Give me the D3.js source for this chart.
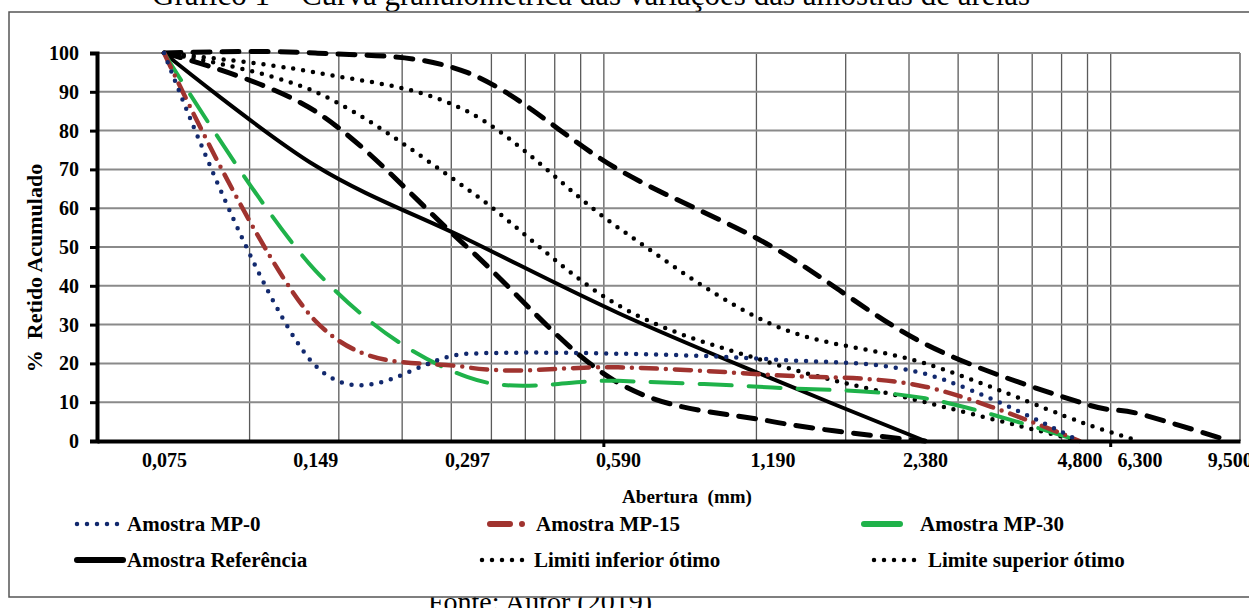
<!DOCTYPE html>
<html>
<head>
<meta charset="utf-8">
<script src="https://cdn.jsdelivr.net/npm/d3@7"></script>
<style>
body { margin: 0; background: #fff; }
svg { display: block; }
</style>
</head>
<body>
<div id="graph1"></div>
<script>
// sieve openings (mm) and their labels
var sieves = [0.075, 0.149, 0.297, 0.59, 1.19, 2.38, 4.8, 6.3, 9.5];
var sieveLabels = ["0,075", "0,149", "0,297", "0,590", "1,190", "2,380", "4,800", "6,300", "9,500"];
var yTicks = [0, 10, 20, 30, 40, 50, 60, 70, 80, 90, 100];

// % retido acumulado (one value per sieve, from 0,075)
var mp0 = [100, 19.5, 22.5, 22.5, 21, 17.3, 0];
var mp15 = [100, 31, 19, 19, 17, 14, 0];
var mp30 = [100, 44, 16.5, 15.5, 13.8, 11, 0];
var referencia = [100, 71, 52, 33, 16, 0];
var limInfOtimo = [100, 90, 65, 35, 20, 10, 0];
var limSupOtimo = [100, 95, 85, 55, 30, 20, 5, 0];
var limInfUtil = [100, 85, 50, 15, 5, 0];
var limSupUtil = [100, 100, 95, 70, 50, 25, 10, 7, 0];

var w = 1249;
var h = 608;
var font = "'Liberation Serif', 'Times New Roman', serif";

var svg = d3.select("#graph1")
    .append("svg")
    .attr("width", w)
    .attr("height", h);

svg.append("rect")
    .attr("width", w)
    .attr("height", h)
    .attr("fill", "#fff");

// caption lines (mostly cut off by the page)
svg.append("text")
    .attr("x", 152)
    .attr("y", 5)
    .attr("font-family", font)
    .attr("font-size", "31px")
    .attr("fill", "#000")
    .text("Gráfico 1 – Curva granulométrica das variações das amostras de areias");

svg.append("text")
    .attr("x", 540)
    .attr("y", 611)
    .attr("text-anchor", "middle")
    .attr("font-family", font)
    .attr("font-size", "28px")
    .attr("fill", "#000")
    .text("Fonte: Autor (2019)");

// chart frame
svg.append("rect")
    .attr("x", 9)
    .attr("y", 12)
    .attr("width", 1270)
    .attr("height", 585)
    .attr("fill", "#fff")
    .attr("stroke", "#555")
    .attr("stroke-width", 1.5);

var xScale = d3.scaleLog()
    .domain([0.0553, 9.95])
    .range([97, 1240]);

var yScale = d3.scaleLinear()
    .domain([0, 100])
    .range([441, 53]);

// vertical grid: every unit of each decade from the axis minimum
var xMin = xScale.domain()[0];
var gridX = [];
[1, 10].forEach(function (dec) {
    d3.range(2, 11).forEach(function (k) {
        gridX.push(xMin * dec * k);
    });
});

svg.append("g")
    .selectAll("line")
    .data(gridX)
    .enter()
    .append("line")
    .attr("x1", function (d) { return xScale(d); })
    .attr("x2", function (d) { return xScale(d); })
    .attr("y1", yScale(100))
    .attr("y2", yScale(0))
    .attr("stroke", "#5a5a5a")
    .attr("stroke-width", 1.3);

svg.append("g")
    .selectAll("line")
    .data(yTicks)
    .enter()
    .append("line")
    .attr("x1", xScale.range()[0])
    .attr("x2", xScale.range()[1])
    .attr("y1", function (d) { return yScale(d); })
    .attr("y2", function (d) { return yScale(d); })
    .attr("stroke", "#8a8a8a")
    .attr("stroke-width", 2);

// right border of plot area
svg.append("line")
    .attr("x1", xScale.range()[1])
    .attr("x2", xScale.range()[1])
    .attr("y1", yScale(100))
    .attr("y2", yScale(0))
    .attr("stroke", "#8a8a8a")
    .attr("stroke-width", 2);

var line = function (values) {
    var pts = values.map(function (v, i) { return [sieves[i], v]; });
    return d3.line()
        .x(function (d) { return xScale(d[0]); })
        .y(function (d) { return yScale(d[1]); })
        .curve(d3.curveCardinal.tension(0))(pts);
};

var series = [
    { data: limSupUtil, color: "#000", width: 5, dash: "17 12" },
    { data: limInfUtil, color: "#000", width: 5, dash: "17 12" },
    { data: limSupOtimo, color: "#000", width: 4.5, dash: "0 10" },
    { data: limInfOtimo, color: "#000", width: 4.5, dash: "0 10" },
    { data: referencia, color: "#000", width: 4, dash: null },
    { data: mp30, color: "#1fb24a", width: 4, dash: "32 17" },
    { data: mp15, color: "#a0332f", width: 4.5, dash: "16 9 0 9" },
    { data: mp0, color: "#12296e", width: 4.5, dash: "0 10" }
];

svg.append("g")
    .selectAll("path")
    .data(series)
    .enter()
    .append("path")
    .attr("d", function (d) { return line(d.data); })
    .attr("fill", "none")
    .attr("stroke", function (d) { return d.color; })
    .attr("stroke-width", function (d) { return d.width; })
    .attr("stroke-dasharray", function (d) { return d.dash; })
    .attr("stroke-linecap", "round")
    .attr("stroke-linejoin", "round");

// Y axis
var yAxis = d3.axisLeft(yScale)
    .tickValues(yTicks)
    .tickSize(7)
    .tickPadding(11);

var gy = svg.append("g")
    .attr("transform", "translate(" + xScale.range()[0] + ",0)")
    .call(yAxis);
gy.select(".domain").attr("stroke", "#000").attr("stroke-width", 4);
gy.selectAll(".tick line").attr("stroke", "#000").attr("stroke-width", 3);
gy.selectAll(".tick text")
    .attr("font-family", font)
    .attr("font-size", "20px")
    .attr("font-weight", "bold")
    .attr("fill", "#000");

// X axis
var xAxis = d3.axisBottom(xScale)
    .tickValues(sieves)
    .tickSize(0)
    .tickPadding(12)
    .tickFormat(function (d, i) { return sieveLabels[i]; });

var gx = svg.append("g")
    .attr("transform", "translate(0," + yScale(0) + ")")
    .call(xAxis);
gx.select(".domain").attr("stroke", "#000").attr("stroke-width", 4);
gx.selectAll(".tick text")
    .attr("font-family", font)
    .attr("font-size", "20px")
    .attr("font-weight", "bold")
    .attr("fill", "#000");

// small ticks on the decade lines
svg.append("g")
    .selectAll("line")
    .data([xMin * 10, xMin * 100])
    .enter()
    .append("line")
    .attr("x1", function (d) { return xScale(d); })
    .attr("x2", function (d) { return xScale(d); })
    .attr("y1", yScale(0))
    .attr("y2", yScale(0) + 6)
    .attr("stroke", "#000")
    .attr("stroke-width", 3);

// axis titles
svg.append("text")
    .attr("transform", "translate(34,268) rotate(-90)")
    .attr("text-anchor", "middle")
    .attr("dy", "0.35em")
    .attr("font-family", font)
    .attr("font-size", "22px")
    .attr("font-weight", "bold")
    .style("white-space", "pre")
    .text("%  Retido Acumulado");

svg.append("text")
    .attr("x", 687)
    .attr("y", 503)
    .attr("text-anchor", "middle")
    .attr("font-family", font)
    .attr("font-size", "19px")
    .attr("font-weight", "bold")
    .style("white-space", "pre")
    .text("Abertura  (mm)");

// legend
var legend = [
    { name: "Amostra MP-0", color: "#12296e", width: 4.5, dash: "0 10", x: 77, y: 524, len: 46, gap: 4 },
    { name: "Amostra MP-15", color: "#a0332f", width: 6, dash: "20 12 0 40", x: 490, y: 524, len: 38, gap: 8 },
    { name: "Amostra MP-30", color: "#1fb24a", width: 6, dash: null, x: 864, y: 524, len: 36, gap: 20 },
    { name: "Amostra Referência", color: "#000", width: 6, dash: null, x: 77, y: 560, len: 46, gap: 4 },
    { name: "Limiti inferior ótimo", color: "#000", width: 4.5, dash: "0 10", x: 482, y: 560, len: 46, gap: 6 },
    { name: "Limite superior ótimo", color: "#000", width: 4.5, dash: "0 10", x: 874, y: 560, len: 46, gap: 8 }
];

var lg = svg.append("g")
    .selectAll("g")
    .data(legend)
    .enter()
    .append("g");

lg.append("line")
    .attr("x1", function (d) { return d.x; })
    .attr("x2", function (d) { return d.x + d.len; })
    .attr("y1", function (d) { return d.y; })
    .attr("y2", function (d) { return d.y; })
    .attr("stroke", function (d) { return d.color; })
    .attr("stroke-width", function (d) { return d.width; })
    .attr("stroke-dasharray", function (d) { return d.dash; })
    .attr("stroke-linecap", "round");

lg.append("text")
    .attr("x", function (d) { return d.x + d.len + d.gap; })
    .attr("y", function (d) { return d.y; })
    .attr("dy", "0.35em")
    .attr("font-family", font)
    .attr("font-size", "21px")
    .attr("font-weight", "bold")
    .attr("fill", "#000")
    .text(function (d) { return d.name; });
</script>
</body>
</html>
